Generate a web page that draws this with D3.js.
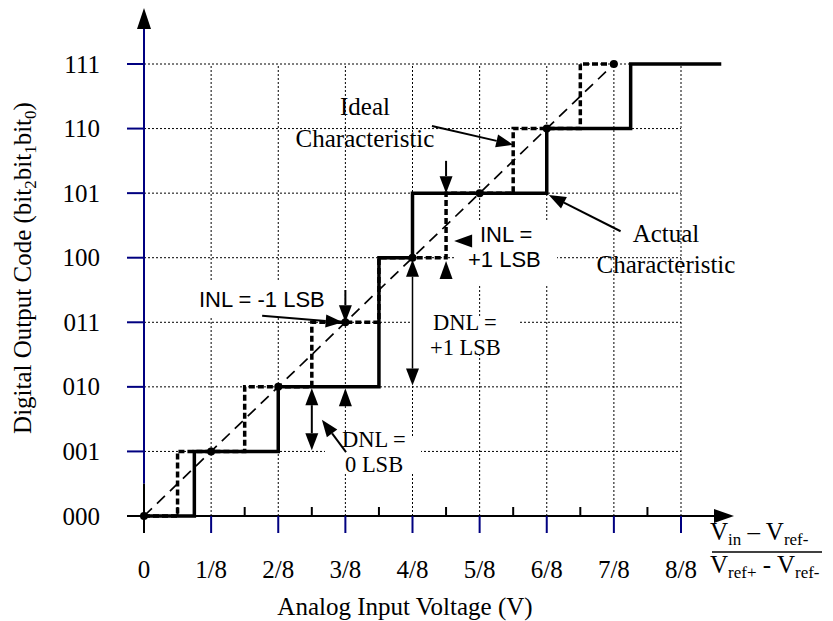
<!DOCTYPE html>
<html><head><meta charset="utf-8">
<script src="https://cdn.jsdelivr.net/npm/d3@7/dist/d3.min.js"></script>
<style>html,body{margin:0;padding:0;background:#fff;}svg{display:block;}</style>
</head><body>
<svg id="c" width="833" height="621"></svg>
<script>
// ---- data ----
const xTickLabels = ["0","1/8","2/8","3/8","4/8","5/8","6/8","7/8","8/8"];
const yTickLabels = ["000","001","010","011","100","101","110","111"];
const xMajor = [0,1,2,3,4,5,6,7,8];
const xMinor = [0.5,1.5,2.5,3.5,4.5,5.5,6.5,7.5];
const codes = [0,1,2,3,4,5,6,7];
// actual characteristic (step transitions, in LSB = 1/8 units)
const actualX    = [0, 0.75, 2, 3.5, 4, 6, 7.25, 8.6];
const actualCode = [0, 1,    2, 4,   5, 6, 7,    7];
// ideal characteristic
const idealX    = [0, 0.5, 1.5, 2.5, 3.5, 4.5, 5.5, 6.5, 7];
const idealCode = [0, 1,   2,   3,   4,   5,   6,   7,   7];
// ideal straight line
const lineX = [0, 7];
const lineCode = [0, 7];
// ideal points
const pointX = [0,1,2,3,4,5,6,7];
const pointCode = [0,1,2,3,4,5,6,7];

const svg = d3.select("#c");
const x = d3.scaleLinear().domain([0,8]).range([144,681]);
const y = d3.scaleLinear().domain([0,7]).range([516,64]);
const BLUE = "#000080";
const SERIF = "'Liberation Serif','Times New Roman',serif";
const SANS = "'Liberation Sans',Arial,Helvetica,sans-serif";

// ---- grid ----
const grid = svg.append("g").attr("stroke","#000").attr("stroke-width",1).attr("stroke-dasharray","2,2");
xMajor.slice(1).forEach(v=>{
  grid.append("line").attr("x1",x(v)).attr("x2",x(v)).attr("y1",y(0)).attr("y2",y(7));
});
codes.slice(1).forEach(c=>{
  grid.append("line").attr("x1",x(0)).attr("x2",x(8)).attr("y1",y(c)).attr("y2",y(c));
});

// white boxes behind labels that interrupt the grid
const boxes = [[190,280,145,38],[455,222,102,62],[413,318,105,37],[325,437,96,35]];
boxes.forEach(b=>svg.append("rect").attr("x",b[0]).attr("y",b[1]).attr("width",b[2]).attr("height",b[3]).attr("fill","#fff"));

// ---- ideal straight line ----
svg.append("path")
  .attr("d", d3.line().x(d=>x(d[0])).y(d=>y(d[1]))(lineX.map((v,i)=>[v,lineCode[i]])))
  .attr("fill","none").attr("stroke","#000").attr("stroke-width",1.7).attr("stroke-dasharray","11,7");

// ---- ideal staircase ----
svg.append("path")
  .attr("d", d3.line().curve(d3.curveStepAfter).x(d=>x(d[0])).y(d=>y(d[1]))(idealX.map((v,i)=>[v,idealCode[i]])))
  .attr("fill","none").attr("stroke","#000").attr("stroke-width",3.5).attr("stroke-dasharray","6,3");

// ---- actual staircase ----
svg.append("path")
  .attr("d", d3.line().curve(d3.curveStepAfter).x(d=>x(d[0])).y(d=>y(d[1]))(actualX.map((v,i)=>[v,actualCode[i]])))
  .attr("fill","none").attr("stroke","#000").attr("stroke-width",3.5);

// ---- points ----
svg.append("g").selectAll("circle").data(pointX).join("circle")
  .attr("cx",(d)=>x(d)).attr("cy",(d,i)=>y(pointCode[i])).attr("r",4).attr("fill","#000");

// ---- axes ----
svg.append("line").attr("x1",x(0)).attr("x2",x(0)).attr("y1",28).attr("y2",y(0.5)).attr("stroke",BLUE).attr("stroke-width",2);
svg.append("line").attr("x1",x(0)).attr("x2",x(0)).attr("y1",y(0.5)).attr("y2",533).attr("stroke","#000").attr("stroke-width",2);
svg.append("path").attr("d",`M${x(0)},8 L${x(0)-7},29 L${x(0)+7},29 Z`).attr("fill","#000");
codes.slice(1).forEach(c=>{
  svg.append("line").attr("x1",127).attr("x2",x(0)).attr("y1",y(c)).attr("y2",y(c)).attr("stroke",BLUE).attr("stroke-width",2);
});
svg.append("line").attr("x1",127).attr("x2",718).attr("y1",y(0)).attr("y2",y(0)).attr("stroke","#000").attr("stroke-width",2);
svg.append("path").attr("d",`M734,${y(0)} L714,${y(0)-7} L714,${y(0)+7} Z`).attr("fill","#000");
xMajor.slice(1).forEach(v=>{
  svg.append("line").attr("x1",x(v)).attr("x2",x(v)).attr("y1",y(0)).attr("y2",533).attr("stroke",BLUE).attr("stroke-width",2);
});
xMinor.forEach(v=>{
  svg.append("line").attr("x1",x(v)).attr("x2",x(v)).attr("y1",y(0)-9).attr("y2",y(0)).attr("stroke","#000").attr("stroke-width",2);
});

// tick labels
svg.append("g").selectAll("text").data(yTickLabels).join("text")
  .attr("x",100).attr("y",(d,i)=>y(codes[i])+8.5).attr("text-anchor","end")
  .attr("font-family",SERIF).attr("font-size",25).text(d=>d);
svg.append("g").selectAll("text").data(xTickLabels).join("text")
  .attr("x",(d,i)=>x(xMajor[i])).attr("y",578).attr("text-anchor","middle")
  .attr("font-family",SERIF).attr("font-size",25).text(d=>d);

// axis titles
svg.append("text").attr("x",405).attr("y",615).attr("text-anchor","middle")
  .attr("font-family",SERIF).attr("font-size",25).text("Analog Input Voltage (V)");
const yt = svg.append("text").attr("transform","translate(31,268) rotate(-90)").attr("text-anchor","middle")
  .attr("font-family",SERIF).attr("font-size",25);
yt.append("tspan").text("Digital Output Code (bit");
yt.append("tspan").attr("font-size",17).attr("dy",5).text("2");
yt.append("tspan").attr("dy",-5).text("bit");
yt.append("tspan").attr("font-size",17).attr("dy",5).text("1");
yt.append("tspan").attr("dy",-5).text("bit");
yt.append("tspan").attr("font-size",17).attr("dy",5).text("0");
yt.append("tspan").attr("dy",-5).text(")");

// fraction
const num = svg.append("text").attr("x",710).attr("y",540).attr("font-family",SERIF).attr("font-size",25);
num.append("tspan").text("V");
num.append("tspan").attr("font-size",17).attr("dy",5).text("in");
num.append("tspan").attr("dy",-5).text(" \u2013 V");
num.append("tspan").attr("font-size",17).attr("dy",5).text("ref-");
svg.append("line").attr("x1",712).attr("x2",822).attr("y1",552).attr("y2",552).attr("stroke","#000").attr("stroke-width",1.5);
const den = svg.append("text").attr("x",710).attr("y",573).attr("font-family",SERIF).attr("font-size",25);
den.append("tspan").text("V");
den.append("tspan").attr("font-size",17).attr("dy",5).text("ref+");
den.append("tspan").attr("dy",-5).text(" - V");
den.append("tspan").attr("font-size",17).attr("dy",5).text("ref-");

// ---- annotations ----
function head(tx,ty,fx,fy,len=17,w=13){
  const dx=tx-fx, dy=ty-fy, L=Math.hypot(dx,dy), ux=dx/L, uy=dy/L;
  const bx=tx-ux*len, by=ty-uy*len;
  svg.append("path").attr("d",`M${tx},${ty} L${bx-uy*w/2},${by+ux*w/2} L${bx+uy*w/2},${by-ux*w/2} Z`).attr("fill","#000");
  return [bx,by];
}
function arrow(a,b,opts={}){
  const fx=x(a[0]), fy=y(a[1]), tx=x(b[0]), ty=y(b[1]);
  let sx=fx, sy=fy;
  if(opts.both){ [sx,sy]=head(fx,fy,tx,ty); }
  const [bx,by]=head(tx,ty,fx,fy);
  svg.append("line").attr("x1",sx).attr("y1",sy).attr("x2",bx).attr("y2",by)
    .attr("stroke","#000").attr("stroke-width",opts.sw||2);
}
function headOnly(tip,from){ head(x(tip[0]),y(tip[1]),x(from[0]),y(from[1]),18,13); }

arrow([4.29,6.04],[5.5,5.75]);           // ideal characteristic
arrow([7.1,4.41],[6.03,4.97]);           // actual characteristic
arrow([1.76,3.1],[2.96,3.0]);            // INL -1 pointer
arrow([3,3.5],[3,3.0]);                  // INL -1 down
arrow([4.5,5.5],[4.5,5.0]);              // INL +1 down
headOnly([4.5,3.95],[4.5,3.0]);          // INL +1 up
headOnly([4.62,4.26],[5.5,4.26]);        // INL +1 left
arrow([4,3.97],[4,2.02],{both:true,sw:1.5}); // DNL +1
arrow([2.5,1.98],[2.5,1.02],{both:true,sw:2}); // DNL 0
headOnly([3,1.98],[3,1.0]);              // DNL 0 up
arrow([3.01,0.99],[2.65,1.49]);          // DNL 0 pointer

// labels
function label(lines,xp,anchor,fam,size){
  lines.forEach(l=>svg.append("text").attr("x",xp).attr("y",l[1]).attr("text-anchor",anchor)
    .attr("font-family",fam).attr("font-size",size).text(l[0]));
}
label([["Ideal",115],["Characteristic",147]],365,"middle",SERIF,25);
label([["Actual",242],["Characteristic",273]],666,"middle",SERIF,25);
label([["INL = -1 LSB",307]],199,"start",SANS,22);
label([["INL =",242]],480,"start",SANS,22);
label([["+1 LSB",267]],468,"start",SANS,22);
label([["DNL =",330]],433,"start",SERIF,22.5);
label([["+1 LSB",355]],430,"start",SERIF,22.5);
label([["DNL =",447]],342,"start",SERIF,22.5);
label([["0 LSB",472]],345,"start",SERIF,22.5);
</script>
</body></html>
